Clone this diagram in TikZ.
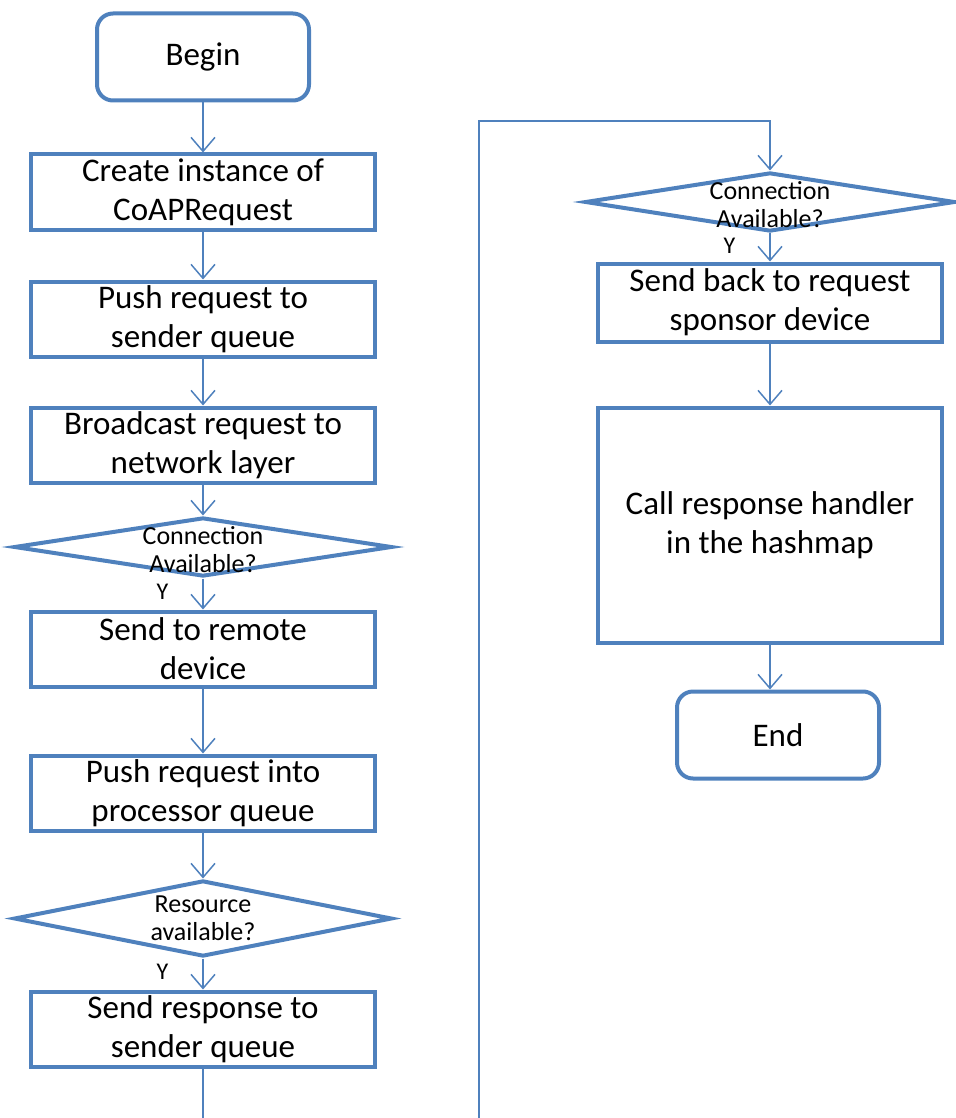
\documentclass[tikz,border=0pt]{standalone}
\usepackage{fontspec}
\setmainfont{Carlito}
\usetikzlibrary{shapes.geometric, arrows.meta, positioning, calc}
\definecolor{flowblue}{RGB}{79, 129, 189}

\begin{document}
\begin{tikzpicture}[
    x=1pt, y=-1pt,
    box/.style={rectangle, draw=flowblue, line width=4pt, fill=white,
                minimum width=344pt, minimum height=75pt, inner sep=0pt,
                align=center, font=\fontsize{33}{39}\selectfont},
    terminal/.style={box, rounded corners=16pt, minimum width=212pt, minimum height=87pt},
    decision/.style={diamond, draw=flowblue, line width=4pt, fill=white,
                     minimum width=378pt, minimum height=59pt, inner sep=0pt},
    dtext/.style={align=center, inner sep=0pt, font=\fontsize{26}{28}\selectfont},
    arrow/.style={-{Straight Barb[length=14pt, width=24pt, line width=1.5pt]}, line width=1.5pt, flowblue},
    ylab/.style={left=34pt, yshift=2pt, inner sep=0pt, text=black, font=\fontsize{24}{26}\selectfont}
]
\useasboundingbox (0,0) rectangle (955,1118);

% Left column
\node[terminal] (begin) at (203,57) {Begin};
\node[box, below=50pt of begin] (create) {Create instance of\\CoAPRequest};
\node[box, below=48pt of create] (push) {Push request to\\sender queue};
\node[box, below=47pt of push] (bcast) {Broadcast request to\\network layer};
\node[decision, below=31pt of bcast,
      label={[dtext, yshift=-3pt]center:Connection\\Available?}] (conn) {};
\node[box, below=31pt of conn] (remote) {Send to remote\\device};
\node[box, below=65pt of remote] (proc) {Push request into\\processor queue};
\node[decision, minimum height=76pt, below=46pt of proc,
      label={[dtext]center:Resource\\available?}] (res) {};
\node[box, below=31pt of res] (resp) {Send response to\\sender queue};

% Right column
\node[decision, minimum width=370pt] (conn2) at (770,202)
      [label={[dtext, yshift=-3pt]center:Connection\\Available?}] {};
\node[box, minimum height=78pt, below=28pt of conn2] (sponsor) {Send back to request\\sponsor device};
\node[box, minimum height=235pt, below=62pt of sponsor] (handler) {Call response handler\\in the hashmap};
\node[terminal, minimum width=202pt, anchor=north] (end) at ($(handler.south)+(8,45)$) {End};

% Connectors
\draw[arrow] (begin) -- (create);
\draw[arrow] (create) -- (push);
\draw[arrow] (push) -- (bcast);
\draw[arrow] (bcast) -- (conn);
\draw[arrow] (conn) -- node[ylab] {Y} (remote);
\draw[arrow] (remote) -- (proc);
\draw[arrow] (proc) -- (res);
\draw[arrow] (res) -- node[ylab] {Y} (resp);

% Page break link
\coordinate (jump) at (479,121);
\draw[line width=1.5pt, flowblue] (resp.south) -- (resp.south |- 0,1118);
\draw[arrow] (jump |- 0,1118) -- (jump) -- (jump -| conn2.north) -- (conn2.north);

\draw[arrow] (conn2) -- node[ylab] {Y} (sponsor);
\draw[arrow] (sponsor) -- (handler);
\draw[arrow] (handler.south) -- (handler.south |- end.north);

\end{tikzpicture}
\end{document}
